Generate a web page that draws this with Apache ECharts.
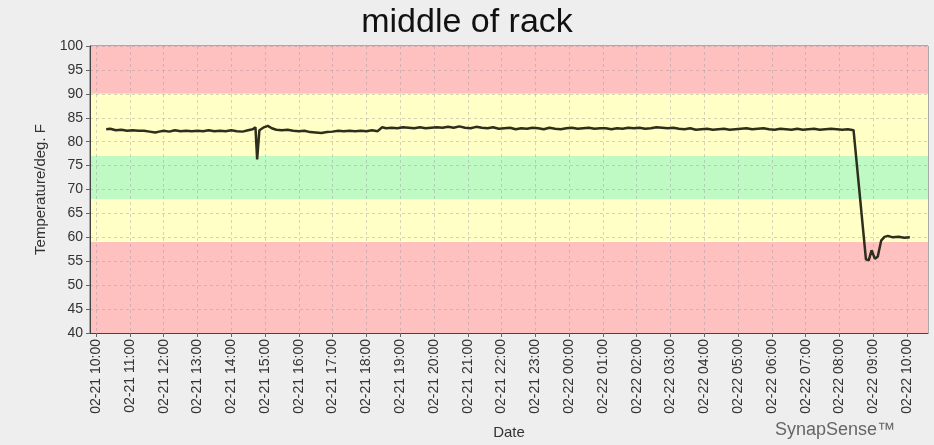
<!DOCTYPE html>
<html>
<head>
<meta charset="utf-8">
<script src="https://cdn.jsdelivr.net/npm/echarts@6/dist/echarts.min.js"></script>
<style>
  html, body { margin: 0; padding: 0; background: #eeeeee; }
  #main { width: 934px; height: 445px; }
</style>
</head>
<body>
<div id="main"></div>
<script>
// sample times (MM-DD HH:mm) and temperature readings, deg F
var times = [
  '02-21 10:18', '02-21 10:25', '02-21 10:35', '02-21 10:45', '02-21 10:55', '02-21 11:05', '02-21 11:15', '02-21 11:25',
  '02-21 11:35', '02-21 11:45', '02-21 11:52', '02-21 12:00', '02-21 12:10', '02-21 12:20', '02-21 12:30', '02-21 12:40',
  '02-21 12:50', '02-21 13:00', '02-21 13:10', '02-21 13:20', '02-21 13:30', '02-21 13:40', '02-21 13:50', '02-21 14:00',
  '02-21 14:10', '02-21 14:20', '02-21 14:30', '02-21 14:38', '02-21 14:43', '02-21 14:46', '02-21 14:50', '02-21 14:58',
  '02-21 15:05', '02-21 15:12', '02-21 15:20', '02-21 15:30', '02-21 15:40', '02-21 15:50', '02-21 16:00', '02-21 16:10',
  '02-21 16:20', '02-21 16:30', '02-21 16:40', '02-21 16:50', '02-21 17:00', '02-21 17:10', '02-21 17:20', '02-21 17:30',
  '02-21 17:40', '02-21 17:50', '02-21 18:00', '02-21 18:10', '02-21 18:20', '02-21 18:28', '02-21 18:35', '02-21 18:45',
  '02-21 18:55', '02-21 19:05', '02-21 19:15', '02-21 19:25', '02-21 19:35', '02-21 19:45', '02-21 19:55', '02-21 20:05',
  '02-21 20:15', '02-21 20:25', '02-21 20:35', '02-21 20:45', '02-21 20:55', '02-21 21:05', '02-21 21:15', '02-21 21:25',
  '02-21 21:35', '02-21 21:45', '02-21 21:55', '02-21 22:05', '02-21 22:15', '02-21 22:25', '02-21 22:35', '02-21 22:45',
  '02-21 22:55', '02-21 23:05', '02-21 23:15', '02-21 23:25', '02-21 23:35', '02-21 23:45', '02-21 23:55',
  '02-22 00:05', '02-22 00:15', '02-22 00:25', '02-22 00:35', '02-22 00:45', '02-22 00:55', '02-22 01:05', '02-22 01:15',
  '02-22 01:25', '02-22 01:35', '02-22 01:45', '02-22 01:55', '02-22 02:05', '02-22 02:15', '02-22 02:25', '02-22 02:35',
  '02-22 02:45', '02-22 02:55', '02-22 03:05', '02-22 03:15', '02-22 03:25', '02-22 03:35', '02-22 03:45', '02-22 03:55',
  '02-22 04:05', '02-22 04:15', '02-22 04:25', '02-22 04:35', '02-22 04:45', '02-22 04:55', '02-22 05:05', '02-22 05:15',
  '02-22 05:25', '02-22 05:35', '02-22 05:45', '02-22 05:55', '02-22 06:05', '02-22 06:15', '02-22 06:25', '02-22 06:35',
  '02-22 06:45', '02-22 06:55', '02-22 07:05', '02-22 07:15', '02-22 07:25', '02-22 07:35', '02-22 07:45', '02-22 07:55',
  '02-22 08:05', '02-22 08:15', '02-22 08:25', '02-22 08:47', '02-22 08:52', '02-22 08:57', '02-22 09:03', '02-22 09:08',
  '02-22 09:14', '02-22 09:20', '02-22 09:26', '02-22 09:35', '02-22 09:45', '02-22 09:55', '02-22 10:05'
];
var temps = [
  82.6, 82.7, 82.4, 82.5, 82.3, 82.4, 82.3, 82.3,
  82.1, 81.9, 82.1, 82.3, 82.1, 82.4, 82.2, 82.3,
  82.2, 82.3, 82.2, 82.4, 82.2, 82.3, 82.2, 82.4,
  82.2, 82.1, 82.4, 82.6, 83.0, 76.3, 82.4, 83.0,
  83.3, 82.8, 82.5, 82.4, 82.5, 82.3, 82.2, 82.3,
  82.0, 81.9, 81.8, 82.0, 82.1, 82.3, 82.2, 82.3,
  82.2, 82.3, 82.2, 82.4, 82.2, 83.0, 82.8, 82.9,
  82.8, 83.0, 82.9, 82.8, 83.0, 82.8, 82.9, 83.0,
  82.9, 83.1, 82.9, 83.2, 82.9, 82.8, 83.1, 82.9,
  82.8, 83.0, 82.7, 82.8, 82.9, 82.6, 82.8, 82.7,
  82.9, 82.8, 82.6, 82.9, 82.7, 82.6, 82.8,
  82.9, 82.7, 82.8, 82.9, 82.7, 82.8, 82.8, 82.6,
  82.8, 82.7, 82.9, 82.8, 82.9, 82.7, 82.8, 83.0,
  82.9, 82.8, 82.9, 82.7, 82.6, 82.8, 82.5, 82.6,
  82.7, 82.5, 82.6, 82.7, 82.5, 82.6, 82.7, 82.8,
  82.6, 82.7, 82.8, 82.6, 82.5, 82.7, 82.6, 82.5,
  82.7, 82.5, 82.6, 82.7, 82.5, 82.6, 82.7, 82.6,
  82.5, 82.6, 82.4, 55.4, 55.2, 57.3, 55.5, 56.0,
  59.3, 60.1, 60.3, 60.0, 60.1, 59.9, 60.0
];
// hourly tick labels (hours from 02-21 00:00)
var tickHours = [10, 11, 12, 13, 14, 15, 16, 17, 18, 19, 20, 21, 22, 23, 24, 25, 26, 27, 28, 29, 30, 31, 32, 33, 34];
// coloured threshold bands [from, to, colour]
var bands = [
  [90, 100, '#ffc0c0'],
  [77, 90, '#ffffc6'],
  [68, 77, '#bff9c4'],
  [59, 68, '#ffffc6'],
  [40, 59, '#ffc0c0']
];

function toHours(s) {
  var day = parseInt(s.slice(3, 5)) - 21;
  var h = parseInt(s.slice(6, 8));
  var m = parseInt(s.slice(9, 11));
  return day * 24 + h + m / 60;
}
function pad(n) { return n < 10 ? '0' + n : '' + n; }
function hourLabel(v) {
  var d = v < 24 ? '02-21' : '02-22';
  return d + ' ' + pad(Math.round(v) % 24) + ':00';
}

var chart = echarts.init(document.getElementById('main'));
var font = 'Liberation Sans, Arial, sans-serif';

var option = {
  backgroundColor: '#eeeeee',
  animation: false,
  title: {
    text: 'middle of rack',
    left: 'center',
    top: 1,
    textStyle: { fontFamily: font, fontSize: 34, fontWeight: 'normal', color: '#111' }
  },
  grid: {
    left: 90, right: 6, top: 46, bottom: 112,
    show: true, borderColor: '#666', borderWidth: 1
  },
  xAxis: {
    type: 'value',
    min: 9.82, max: 34.62,
    z: 2,
    name: 'Date',
    nameLocation: 'middle',
    nameGap: 92,
    nameTextStyle: { fontFamily: font, fontSize: 15, color: '#333' },
    axisLine: { lineStyle: { color: '#444' } },
    axisTick: { length: 4, customValues: tickHours, lineStyle: { color: '#666' } },
    axisLabel: {
      customValues: tickHours,
      rotate: 90,
      margin: 6,
      fontFamily: font, fontSize: 14, color: '#333',
      formatter: hourLabel
    },
    splitLine: { show: true, lineStyle: { color: 'rgba(150,150,150,0.4)', type: [3, 3] } }
  },
  yAxis: {
    type: 'value',
    min: 40, max: 100, interval: 5,
    z: 2,
    name: 'Temperature/deg. F',
    nameLocation: 'middle',
    nameGap: 42,
    nameTextStyle: { fontFamily: font, fontSize: 15, color: '#333' },
    axisLine: { show: true, lineStyle: { color: '#444' } },
    axisTick: { show: true, length: 4, lineStyle: { color: '#666' } },
    axisLabel: { fontFamily: font, fontSize: 14, color: '#333', margin: 7 },
    splitLine: { show: true, lineStyle: { color: 'rgba(150,150,150,0.4)', type: [3, 3] } }
  },
  graphic: [{
    type: 'text',
    left: 775,
    top: 421,
    style: { text: 'SynapSense™', fontFamily: font, fontSize: 18, fill: '#666' }
  }],
  series: [{
    type: 'line',
    z: 3,
    showSymbol: false,
    lineStyle: { color: '#2e2e1c', width: 2.5 },
    data: times.map(function (t, i) { return [toHours(t), temps[i]]; }),
    markArea: {
      silent: true,
      z: 1,
      data: bands.map(function (b) {
        return [{ yAxis: b[0], itemStyle: { color: b[2] } }, { yAxis: b[1] }];
      })
    }
  }]
};
chart.setOption(option);
</script>
</body>
</html>
